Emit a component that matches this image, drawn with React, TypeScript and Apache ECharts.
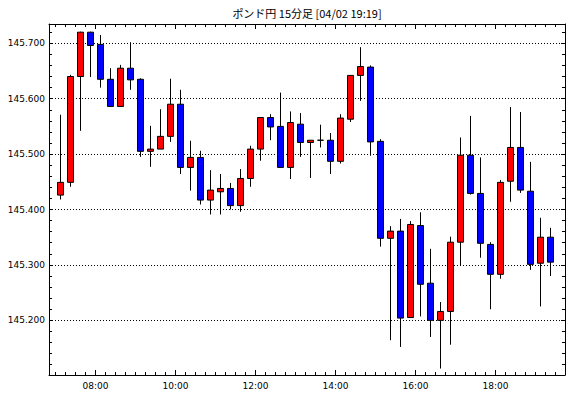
import React, { useEffect, useRef } from 'react';
import * as echarts from 'echarts';

const titleText = 'ポンド円 15分足 [04/02 19:19]';

const times = [
  '07:00', '07:15', '07:30', '07:45',
  '08:00', '08:15', '08:30', '08:45', '09:00', '09:15', '09:30', '09:45',
  '10:00', '10:15', '10:30', '10:45', '11:00', '11:15', '11:30', '11:45',
  '12:00', '12:15', '12:30', '12:45', '13:00', '13:15', '13:30', '13:45',
  '14:00', '14:15', '14:30', '14:45', '15:00', '15:15', '15:30', '15:45',
  '16:00', '16:15', '16:30', '16:45', '17:00', '17:15', '17:30', '17:45',
  '18:00', '18:15', '18:30', '18:45', '19:00', '19:15',
];

const opens = [
  145.426, 145.449, 145.640, 145.720, 145.698, 145.635, 145.586, 145.655, 145.635, 145.505,
  145.509, 145.532, 145.590, 145.476, 145.494, 145.417, 145.432, 145.438, 145.407, 145.456,
  145.509, 145.566, 145.550, 145.476, 145.554, 145.521, 145.525, 145.525, 145.487, 145.563,
  145.642, 145.657, 145.523, 145.348, 145.361, 145.205, 145.371, 145.267, 145.200, 145.216,
  145.341, 145.498, 145.429, 145.337, 145.283, 145.451, 145.512, 145.433, 145.303, 145.350,
];
const closes = [
  145.449, 145.640, 145.720, 145.696, 145.635, 145.586, 145.655, 145.634, 145.505, 145.509,
  145.532, 145.590, 145.476, 145.494, 145.417, 145.435, 145.438, 145.407, 145.456, 145.509,
  145.566, 145.549, 145.476, 145.557, 145.521, 145.525, 145.525, 145.487, 145.565, 145.642,
  145.658, 145.522, 145.348, 145.361, 145.204, 145.373, 145.265, 145.200, 145.216, 145.341,
  145.498, 145.429, 145.339, 145.283, 145.449, 145.512, 145.435, 145.301, 145.350, 145.305,
];
const lows = [
  145.418, 145.441, 145.542, 145.639, 145.620, 145.586, 145.586, 145.616, 145.495, 145.477,
  145.509, 145.522, 145.464, 145.434, 145.409, 145.391, 145.391, 145.400, 145.396, 145.441,
  145.488, 145.525, 145.476, 145.455, 145.495, 145.457, 145.512, 145.464, 145.483, 145.558,
  145.596, 145.497, 145.333, 145.164, 145.152, 145.205, 145.207, 145.170, 145.113, 145.156,
  145.299, 145.427, 145.313, 145.220, 145.275, 145.414, 145.430, 145.291, 145.225, 145.280,
];
const highs = [
  145.571, 145.643, 145.721, 145.721, 145.715, 145.655, 145.661, 145.702, 145.637, 145.551,
  145.581, 145.636, 145.616, 145.524, 145.506, 145.471, 145.464, 145.448, 145.473, 145.515,
  145.566, 145.572, 145.611, 145.577, 145.574, 145.525, 145.553, 145.538, 145.572, 145.642,
  145.693, 145.660, 145.527, 145.370, 145.383, 145.379, 145.395, 145.329, 145.233, 145.351,
  145.530, 145.569, 145.494, 145.341, 145.453, 145.585, 145.576, 145.486, 145.385, 145.367,
];

const xTickLabels = ['08:00', '10:00', '12:00', '14:00', '16:00', '18:00'];
const yTickLabels = ['145.200', '145.300', '145.400', '145.500', '145.600', '145.700'];

// 15-minute slot index of a "HH:MM" string
const slotOf = (t: string) => {
  const [h, m] = t.split(':').map(Number);
  return (h * 60 + m) / 15;
};

const LABEL_FONT = 'DejaVu Sans';

export default function App() {
  const ref = useRef<HTMLDivElement>(null);

  useEffect(() => {
    if (!ref.current) return;
    const chart = echarts.init(ref.current, undefined, { renderer: 'svg' });

    const data = times.map((t, i) => [slotOf(t) + 0.5, opens[i], closes[i], lows[i], highs[i]]);

    const xLabelFmt = (v: number) => {
      const found = xTickLabels.find((l) => Math.abs(slotOf(l) - v) < 1e-6);
      return found ?? '';
    };
    const yLabelFmt = (v: number) => {
      const s = v.toFixed(3);
      return yTickLabels.includes(s) ? s : '';
    };

    const xBase = {
      type: 'value' as const,
      gridIndex: 0,
      min: 27.35,
      max: 78.95,
      minInterval: 8,
      maxInterval: 8,
      axisLine: { show: true, onZero: false, lineStyle: { color: '#000', width: 1 } },
      splitLine: { show: false },
    };
    const yBase = {
      type: 'value' as const,
      gridIndex: 0,
      min: 145.1013,
      max: 145.7348,
      minInterval: 0.1,
      maxInterval: 0.1,
      axisLine: { show: true, onZero: false, lineStyle: { color: '#000', width: 1 } },
    };

    chart.setOption({
      animation: false,
      backgroundColor: '#fff',
      grid: {
        left: 49,
        top: 24,
        width: 516,
        height: 351,
        containLabel: false,
        outerBoundsMode: 'none',
      },
      graphic: [
        {
          type: 'text',
          x: 307,
          y: 13,
          style: {
            text: titleText,
            fill: '#000',
            fontSize: 11,
            fontFamily: '"Noto Sans CJK JP"',
            align: 'center',
            verticalAlign: 'middle',
            textAlign: 'center',
            textVerticalAlign: 'middle',
          },
        },
      ],
      xAxis: [
        {
          ...xBase,
          position: 'bottom',
          axisTick: { show: true, inside: true, length: 5, lineStyle: { color: '#000', width: 1 } },
          minorTick: { show: true, splitNumber: 8, length: 3, lineStyle: { color: '#000', width: 1 } },
          axisLabel: {
            show: true,
            formatter: xLabelFmt,
            color: '#000',
            fontSize: 9,
            fontFamily: LABEL_FONT,
            margin: 6,
            showMinLabel: false,
            showMaxLabel: false,
            hideOverlap: false,
          },
        },
        {
          ...xBase,
          position: 'top',
          axisTick: { show: true, inside: true, length: 5, lineStyle: { color: '#000', width: 1 } },
          minorTick: { show: true, splitNumber: 8, length: 3, lineStyle: { color: '#000', width: 1 } },
          axisLabel: { show: false },
        },
      ],
      yAxis: [
        {
          ...yBase,
          position: 'left',
          axisTick: { show: true, inside: true, length: 4, lineStyle: { color: '#000', width: 1 } },
          minorTick: { show: true, splitNumber: 5, length: 3, lineStyle: { color: '#000', width: 1 } },
          splitLine: { show: true, lineStyle: { color: '#000', width: 1, type: [1, 2] } },
          axisLabel: {
            show: true,
            formatter: yLabelFmt,
            color: '#000',
            fontSize: 9,
            fontFamily: LABEL_FONT,
            margin: 4,
            showMinLabel: false,
            showMaxLabel: false,
          },
        },
        {
          ...yBase,
          position: 'right',
          axisTick: { show: true, inside: true, length: 4, lineStyle: { color: '#000', width: 1 } },
          minorTick: { show: true, splitNumber: 5, length: 3, lineStyle: { color: '#000', width: 1 } },
          splitLine: { show: false },
          axisLabel: { show: false },
        },
      ],
      series: [
        {
          type: 'candlestick',
          xAxisIndex: 0,
          yAxisIndex: 0,
          data,
          barWidth: 7,
          itemStyle: {
            color: '#ff0000',
            color0: '#0000ff',
            borderColor: '#000',
            borderColor0: '#000',
            borderColorDoji: '#000',
            borderWidth: 1,
          },
        },
      ],
    });

    return () => chart.dispose();
  }, []);

  return (
    <div
      ref={ref}
      style={{ position: 'fixed', left: 0, top: 0, width: 570, height: 398, background: '#fff' }}
    />
  );
}
